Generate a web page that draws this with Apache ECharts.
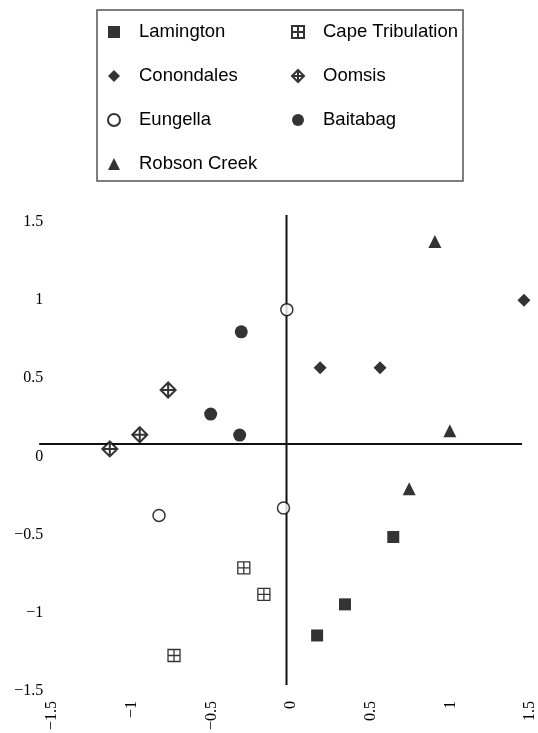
<!DOCTYPE html>
<html>
<head>
<meta charset="utf-8">
<script src="https://cdn.jsdelivr.net/npm/echarts@6/dist/echarts.min.js"></script>
<style>
html,body{margin:0;padding:0;background:#fff;}
#chart{width:538px;height:733px;}
</style>
</head>
<body>
<div id="chart"></div>
<script>
// ---- data ----
var seriesNames = ['Lamington', 'Cape Tribulation', 'Conondales', 'Oomsis', 'Eungella', 'Baitabag', 'Robson Creek'];
var lamington = [[0.642, -0.515], [0.339, -0.946], [0.164, -1.145]];
var capeTribulation = [[-0.296, -0.712], [-0.170, -0.882], [-0.734, -1.273]];
var conondales = [[0.183, 0.568], [0.559, 0.568], [1.462, 0.999]];
var oomsis = [[-0.771, 0.425], [-0.949, 0.139], [-1.137, 0.048]];
var eungella = [[-0.026, 0.939], [-0.047, -0.330], [-0.828, -0.377]];
var baitabag = [[-0.312, 0.797], [-0.504, 0.271], [-0.322, 0.137]];
var robsonCreek = [[0.903, 1.375], [0.997, 0.164], [0.742, -0.207]];
// reference (cross) lines, in data units
var hLine = [[-1.58, 0.08], [1.45, 0.08]];
var vLine = [[-0.028, 1.545], [-0.028, -1.462]];
var axisTicks = [-1.5, -1, -0.5, 0, 0.5, 1, 1.5];
var xRange = [-1.58, 1.5];
var yRange = [-1.5, 1.545];

var squarePlus = 'path://M0,0 L10,0 L10,10 L0,10 Z M5,0 L5,10 M0,5 L10,5';
var diamondPlus = 'path://M5,0 L10,5 L5,10 L0,5 Z M5,0 L5,10 M0,5 L10,5';

function fmt(v) { return v < 0 ? '\u2212' + (-v) : String(v); }

var chart = echarts.init(document.getElementById('chart'), null, {renderer: 'canvas'});

function sc(name, data, symbol, size, style) {
  return {
    name: name, type: 'scatter', data: data, symbol: symbol, symbolSize: size,
    itemStyle: style, z: 5, clip: false, emphasis: {disabled: true}
  };
}
var black = {color: '#000'};
var hollow = {color: '#fff', borderColor: '#000', borderWidth: 1.5};

var labelStyle = {color: '#000', fontFamily: 'Liberation Serif', fontSize: 16};

var legendText = {color: '#000', fontFamily: 'Liberation Sans', fontSize: 18.5, lineHeight: 20, padding: [0, 0, 0, 14]};

var option = {
  animation: false,
  backgroundColor: '#fff',
  graphic: [{
    type: 'rect', shape: {x: 97, y: 10, width: 366, height: 171},
    style: {fill: 'none', stroke: '#555', lineWidth: 1.5}, silent: true
  }],
  legend: [{
    orient: 'vertical', left: 107, top: 22, padding: 0,
    itemWidth: 12, itemHeight: 12, itemGap: 24,
    data: ['Lamington', 'Conondales', 'Eungella', 'Robson Creek'],
    textStyle: legendText, selectedMode: false
  }, {
    orient: 'vertical', left: 291, top: 22, padding: 0,
    itemWidth: 12, itemHeight: 12, itemGap: 24,
    data: ['Cape Tribulation', 'Oomsis', 'Baitabag'],
    textStyle: legendText, selectedMode: false
  }],
  grid: {left: 39.2, top: 214.9, width: 491.9, height: 478.1, containLabel: false},
  xAxis: {
    type: 'value', min: xRange[0], max: xRange[1],
    axisLine: {show: false}, axisTick: {show: false}, splitLine: {show: false},
    axisLabel: Object.assign({rotate: 90, margin: 10, formatter: fmt, customValues: axisTicks,
      showMinLabel: true, showMaxLabel: true}, labelStyle)
  },
  yAxis: {
    type: 'value', min: yRange[0], max: yRange[1], offset: -12,
    axisLine: {show: false}, axisTick: {show: false}, splitLine: {show: false},
    axisLabel: Object.assign({margin: 8, formatter: fmt, customValues: axisTicks,
      showMinLabel: true, showMaxLabel: true}, labelStyle)
  },
  series: [
    {name: 'hline', type: 'line', data: hLine, symbol: 'none', clip: false, silent: true, z: 1,
      lineStyle: {color: '#111', width: 2}},
    {name: 'vline', type: 'line', data: vLine, symbol: 'none', clip: false, silent: true, z: 1,
      lineStyle: {color: '#111', width: 2}},
    sc('Lamington', lamington, 'rect', 12, black),
    sc('Cape Tribulation', capeTribulation, squarePlus, 12, {color: '#fff', borderColor: '#000', borderWidth: 1.3}),
    sc('Conondales', conondales, 'diamond', 13, black),
    sc('Oomsis', oomsis, diamondPlus, 15, {color: '#fff', borderColor: '#000', borderWidth: 2}),
    sc('Eungella', eungella, 'circle', 12, hollow),
    sc('Baitabag', baitabag, 'circle', 13, black),
    sc('Robson Creek', robsonCreek, 'triangle', 13, black)
  ]
};
chart.setOption(option);
</script>
</body>
</html>
